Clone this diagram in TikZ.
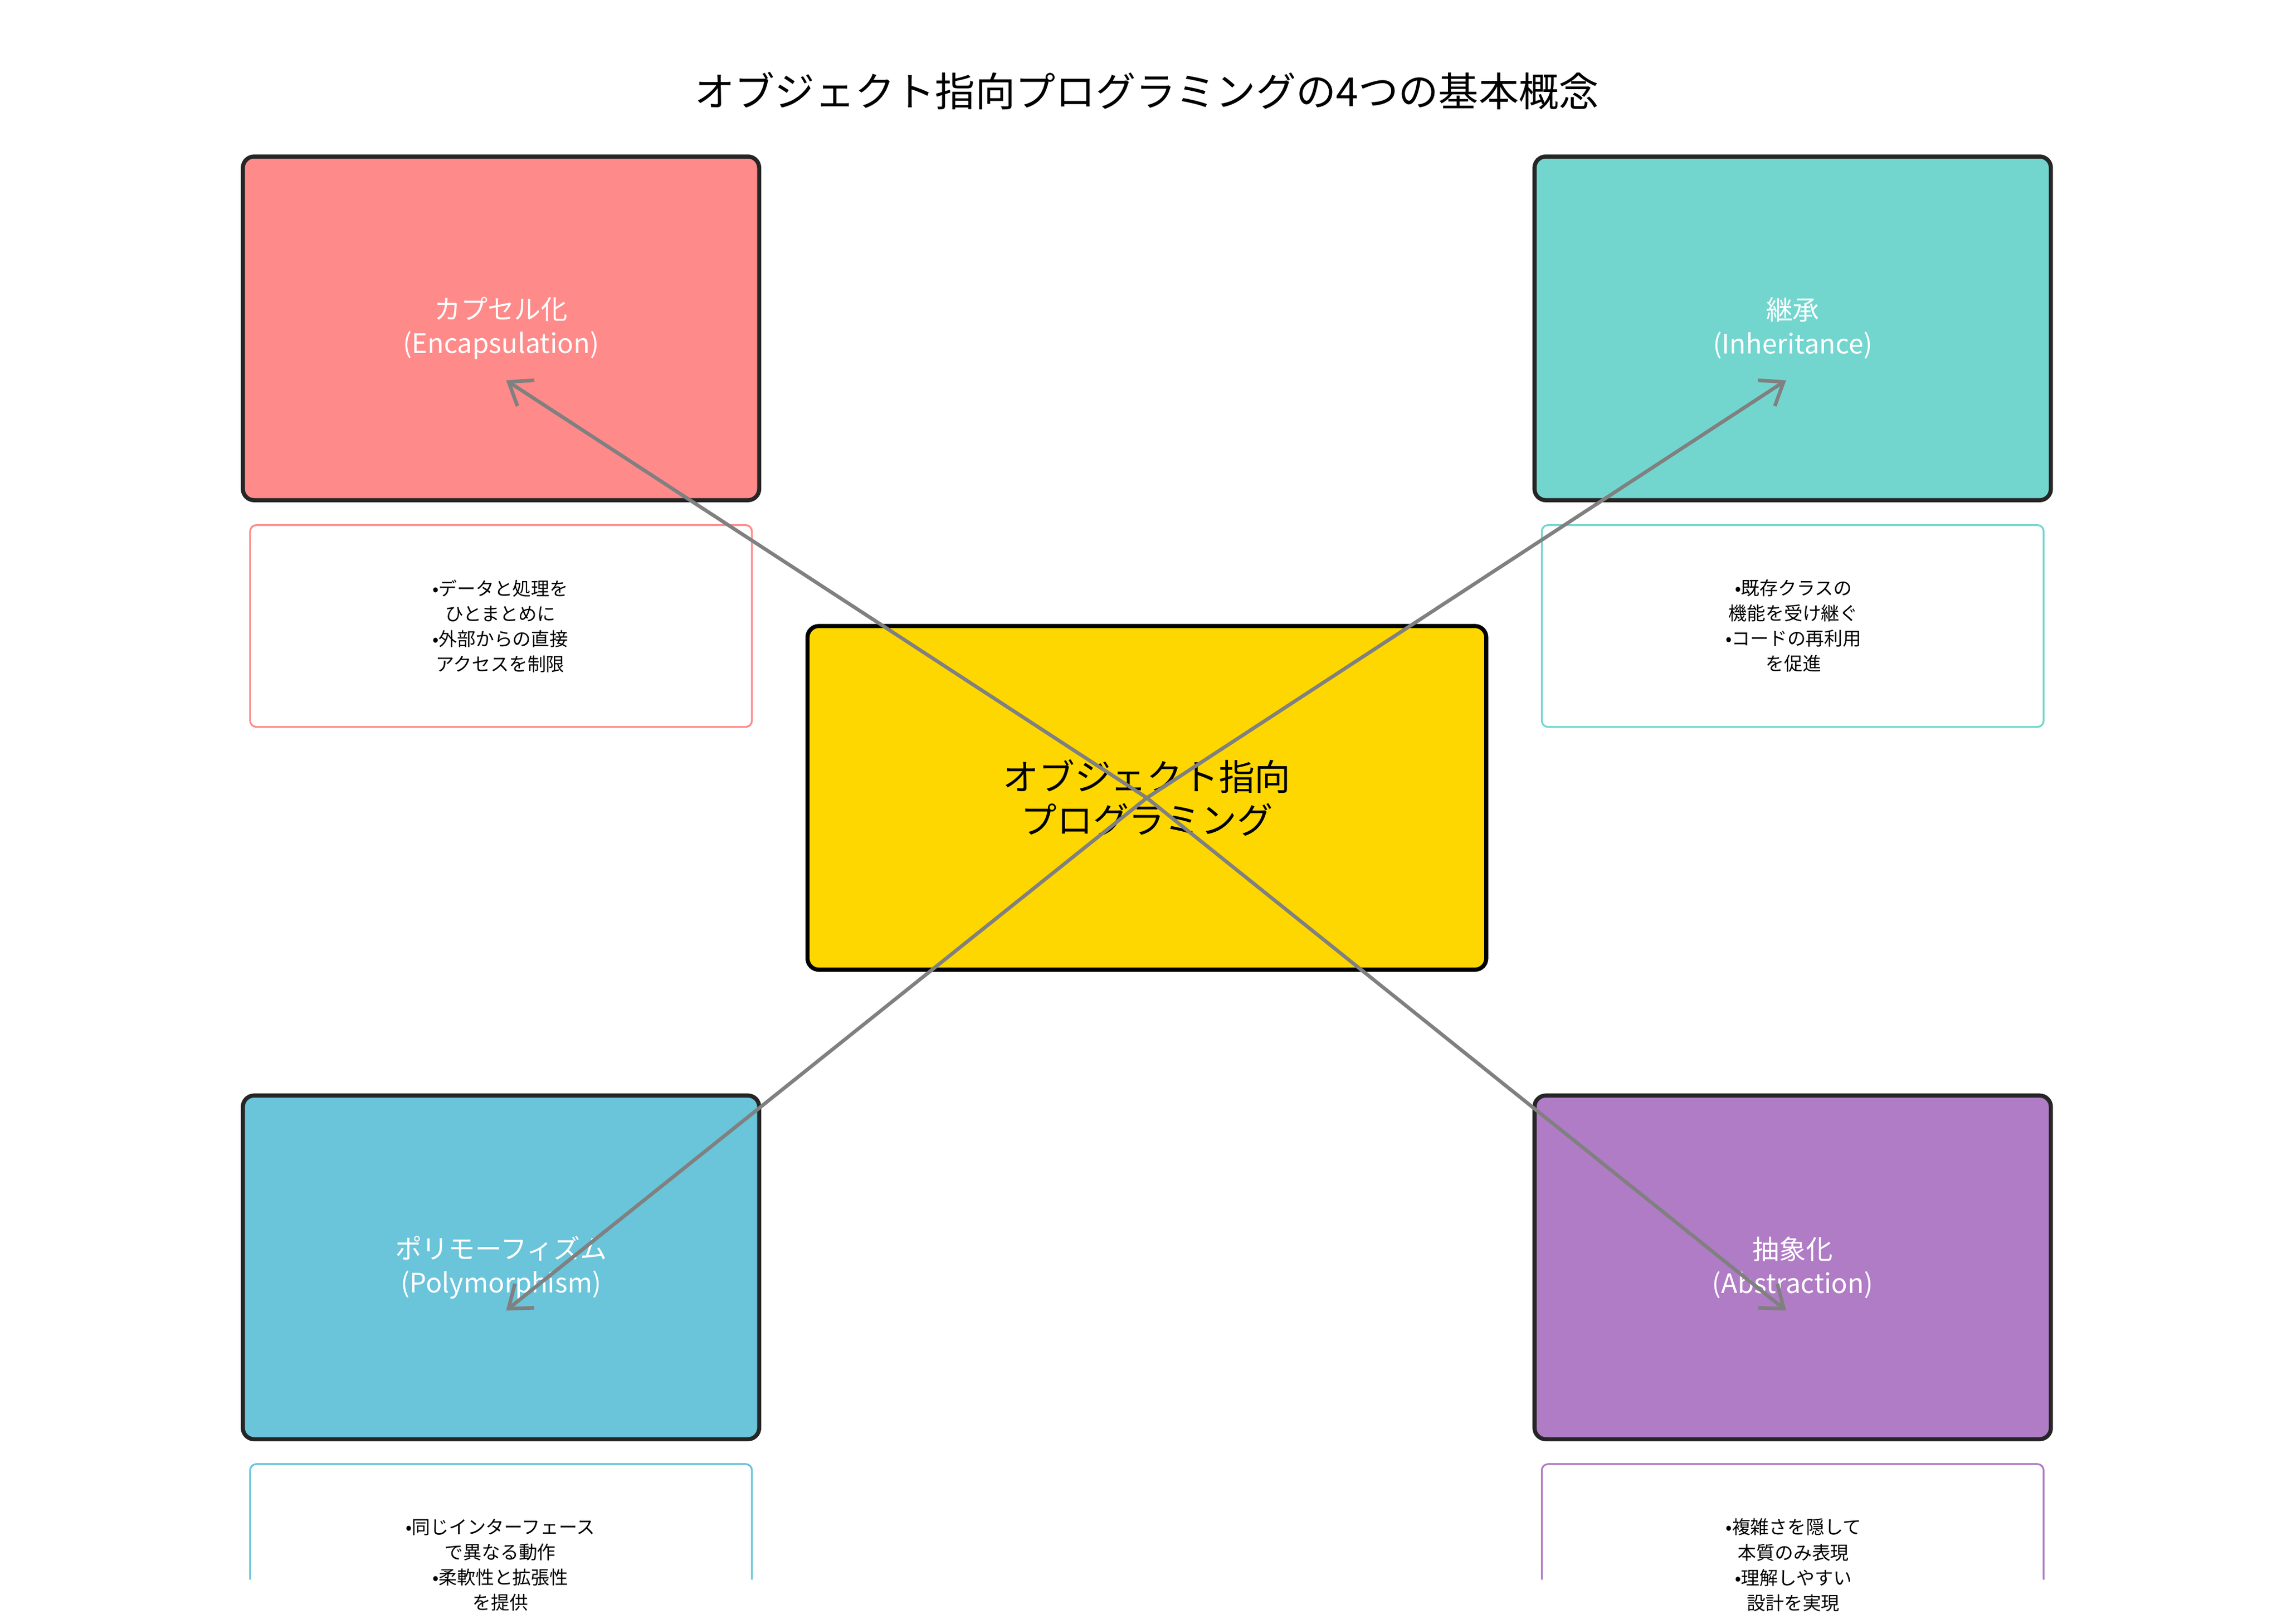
\documentclass[tikz,border=0pt]{standalone}
\usepackage{fontspec}
\setmainfont{Noto Sans CJK JP}
\usetikzlibrary{arrows.meta}
\begin{document}
\begin{tikzpicture}[x=0.1cm,y=-0.1cm,
  main/.style={draw=black!85,line width=8pt,rounded corners=22pt,minimum width=35.3cm,minimum height=23.5cm,text=white,align=center,font=\fontsize{52}{66}\selectfont},
  desc/.style={line width=3.5pt,rounded corners=12pt},
  dtext/.style={align=center,font=\fontsize{36}{49}\selectfont},
  arr/.style={draw=gray,line width=7pt,-{Straight Barb[length=40pt,width=60pt,line width=7pt]}}]
\useasboundingbox (0,0) rectangle (1560,1110);
\definecolor{cred}{HTML}{FF8A8A}
\definecolor{cteal}{HTML}{72D6CF}
\definecolor{cblue}{HTML}{6AC4DA}
\definecolor{cpurp}{HTML}{B07CC6}
\definecolor{cgold}{HTML}{FFD700}
\node (title) at (784,62) {\fontsize{78}{90}\selectfont オブジェクト指向プログラミングの4つの基本概念};
% description boxes
\draw[desc,draw=cred] (171,359) rectangle (514,497);
\draw[desc,draw=cteal] (1054,359) rectangle (1397,497);
\draw[desc,draw=cblue] (171,1080) |- (514,1001) -- (514,1080);
\draw[desc,draw=cpurp] (1054,1080) |- (1397,1001) -- (1397,1080);
\node[dtext] (d1) at (342,428) {•データと処理を\\ひとまとめに\\•外部からの直接\\アクセスを制限};
\node[dtext] (d2) at (1226,428) {•既存クラスの\\機能を受け継ぐ\\•コードの再利用\\を促進};
\node[dtext] (d3) at (342,1070) {•同じインターフェース\\で異なる動作\\•柔軟性と拡張性\\を提供};
\node[dtext] (d4) at (1226,1070) {•複雑さを隠して\\本質のみ表現\\•理解しやすい\\設計を実現};
% main boxes
\node[main,fill=cred] (enc) at (342.5,224.5) {カプセル化\\(Encapsulation)};
\node[main,fill=cteal] (inh) at (1225.5,224.5) {継承\\(Inheritance)};
\node[main,fill=cblue] (poly) at (342.5,866.5) {ポリモーフィズム\\(Polymorphism)};
\node[main,fill=cpurp] (abs) at (1225.5,866.5) {抽象化\\(Abstraction)};
\node[draw=black,line width=8pt,rounded corners=22pt,fill=cgold,minimum width=46.4cm,minimum height=23.5cm,align=center,font=\fontsize{70}{84}\selectfont] (c) at (784,545.5) {オブジェクト指向\\プログラミング};
\coordinate (e1) at (346,260);
\coordinate (e2) at (1221,260);
\coordinate (e3) at (346,896);
\coordinate (e4) at (1221,896);
\draw[arr] (c.center) -- (e1);
\draw[arr] (c.center) -- (e2);
\draw[arr] (c.center) -- (e3);
\draw[arr] (c.center) -- (e4);
\end{tikzpicture}
\end{document}
